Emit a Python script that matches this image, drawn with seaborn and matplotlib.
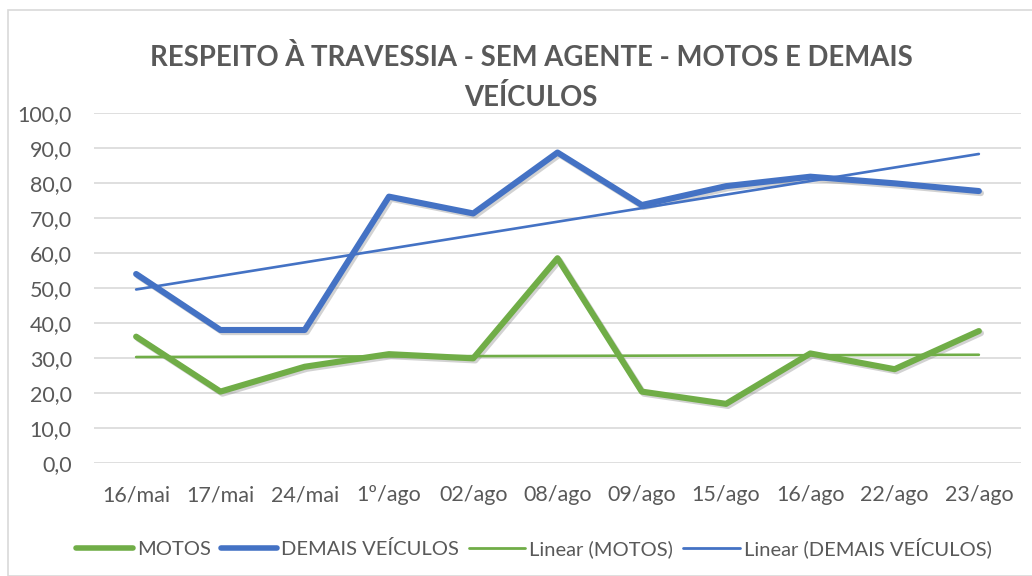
import numpy as np
import pandas as pd
import matplotlib
matplotlib.use("Agg")
import matplotlib.pyplot as plt
import matplotlib.patheffects as pe
from matplotlib.lines import Line2D
import seaborn as sns

categories = ["16/mai", "17/mai", "24/mai", "1º/ago", "02/ago", "08/ago",
              "09/ago", "15/ago", "16/ago", "22/ago", "23/ago"]
motos = [36.1, 20.4, 27.5, 31.1, 29.9, 58.5, 20.4, 16.9, 31.3, 26.8, 37.7]
demais = [54.0, 38.0, 38.0, 76.1, 71.3, 88.7, 73.7, 79.1, 81.8, 79.9, 77.7]
yticks = [0, 10, 20, 30, 40, 50, 60, 70, 80, 90, 100]

GREEN = "#70AD47"
BLUE = "#4472C4"
GRAY = "#595959"

sns.set_theme(style="white")
plt.rcParams["font.family"] = ["Lato", "DejaVu Sans"]

x = np.arange(len(categories))
df = pd.DataFrame({"x": np.concatenate([x, x]),
                   "value": motos + demais,
                   "serie": ["MOTOS"] * len(x) + ["DEMAIS VEÍCULOS"] * len(x)})

# linear trend lines fitted from the data
pm = np.polyfit(x, motos, 1)
pdm = np.polyfit(x, demais, 1)
tr = pd.DataFrame({"x": np.concatenate([x, x]),
                   "value": np.concatenate([np.polyval(pm, x), np.polyval(pdm, x)]),
                   "serie": ["Linear (MOTOS)"] * len(x) + ["Linear (DEMAIS VEÍCULOS)"] * len(x)})

fig = plt.figure(figsize=(10.32, 5.76), dpi=100)
ax = fig.add_axes([94 / 1032, 1 - 463 / 576, 927 / 1032, 350 / 576])

shadow = [pe.SimpleLineShadow(offset=(1.5, -1.5), shadow_color="gray", alpha=0.35), pe.Normal()]
sns.lineplot(data=df, x="x", y="value", hue="serie", palette=[GREEN, BLUE],
             linewidth=4.4, ax=ax, legend=False, zorder=3,
             path_effects=shadow, solid_capstyle="round", solid_joinstyle="round")
sns.lineplot(data=tr, x="x", y="value", hue="serie", palette=[GREEN, BLUE],
             linewidth=1.9, ax=ax, legend=False, zorder=4, solid_capstyle="round")

ax.set_xlim(-0.5, len(categories) - 0.5)
ax.set_ylim(0, 100)
ax.set_yticks(yticks)
ax.set_yticklabels([f"{v:.1f}".replace(".", ",") for v in yticks])
ax.set_xticks(x)
ax.set_xticklabels(categories)
ax.tick_params(axis="both", length=0, labelsize=15.5, colors=GRAY)
ax.tick_params(axis="y", pad=16)
ax.tick_params(axis="x", pad=16)
ax.grid(axis="y", color="#D9D9D9", linewidth=1.2)
ax.set_axisbelow(True)
for s in ax.spines.values():
    s.set_visible(False)
ax.set_xlabel("")
ax.set_ylabel("")

fig.text(531 / 1032, 1 - 57 / 576, "RESPEITO À TRAVESSIA - SEM AGENTE - MOTOS E DEMAIS",
         ha="center", va="center", fontsize=19.8, fontweight="bold", color=GRAY)
fig.text(531 / 1032, 1 - 97 / 576, "VEÍCULOS",
         ha="center", va="center", fontsize=19.8, fontweight="bold", color=GRAY)

handles = [Line2D([], [], color=GREEN, lw=4.0),
           Line2D([], [], color=BLUE, lw=4.0),
           Line2D([], [], color=GREEN, lw=2.0),
           Line2D([], [], color=BLUE, lw=2.0)]
labels = ["MOTOS", "DEMAIS VEÍCULOS", "Linear (MOTOS)", "Linear (DEMAIS VEÍCULOS)"]
fig.legend(handles, labels, loc="center", bbox_to_anchor=(534 / 1032, 1 - 548 / 576),
           ncol=4, frameon=False, fontsize=14.5, handlelength=2.8, handletextpad=0.2,
           columnspacing=0.5, labelcolor=GRAY)

border = plt.Rectangle((8 / 1032, 0), 1.1, 1 - 10 / 576, transform=fig.transFigure,
                       fill=False, edgecolor="#D9D9D9", linewidth=1.2)
fig.add_artist(border)

fig.savefig("out.png", dpi=100)
